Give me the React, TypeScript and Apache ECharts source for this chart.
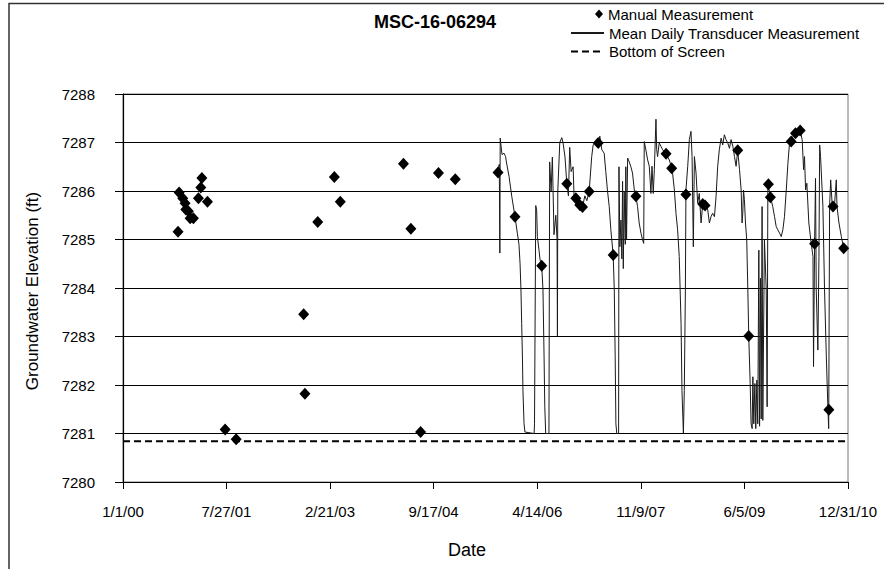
import React, { useEffect, useRef } from "react";
import * as echarts from "echarts";

const FONT = '"Liberation Sans", Arial, Helvetica, sans-serif';

// Dates on the x axis are stored as days since 1 Jan 2000
const xTickDates = ["2000-01-01", "2001-07-27", "2003-02-21", "2004-09-17", "2006-04-14", "2007-11-09", "2009-06-05", "2010-12-31"];
const yMin = 7280;
const yMax = 7288;

// Manual Measurement (diamonds)
const manualDay = [305, 311, 331, 344, 348, 362, 372, 390, 418, 431, 437, 468, 566, 627, 1001, 1008, 1079, 1171, 1204, 1554, 1595, 1649, 1748, 1841, 2078, 2172, 2320, 2459, 2509, 2531, 2546, 2583, 2633, 2716, 2842, 3009, 3040, 3119, 3212, 3225, 3406, 3467, 3576, 3587, 3702, 3726, 3752, 3832, 3911, 3934, 3993];
const manualElev = [7285.16, 7285.97, 7285.85, 7285.75, 7285.62, 7285.58, 7285.44, 7285.44, 7285.85, 7286.07, 7286.27, 7285.78, 7281.08, 7280.88, 7283.46, 7281.82, 7285.36, 7286.29, 7285.78, 7286.56, 7285.22, 7281.03, 7286.37, 7286.24, 7286.38, 7285.47, 7284.46, 7286.15, 7285.85, 7285.71, 7285.67, 7285.99, 7286.99, 7284.68, 7285.89, 7286.77, 7286.47, 7285.93, 7285.73, 7285.7, 7286.84, 7283.01, 7286.14, 7285.87, 7287.02, 7287.19, 7287.25, 7284.91, 7281.49, 7285.68, 7284.82];

// Mean Daily Transducer Measurement (line)
const transducerDay = [2075, 2085, 2088, 2090, 2100, 2111, 2120, 2124, 2139, 2154, 2172, 2185, 2194, 2200, 2205, 2209, 2213, 2216, 2222, 2227, 2278, 2280, 2287, 2292, 2296, 2305, 2311, 2320, 2327, 2333, 2337, 2342, 2360, 2364, 2372, 2379, 2388, 2398, 2405, 2407, 2409, 2420, 2431, 2438, 2449, 2459, 2468, 2475, 2483, 2494, 2499, 2509, 2523, 2533, 2546, 2559, 2570, 2583, 2597, 2605, 2620, 2632, 2642, 2653, 2666, 2675, 2684, 2694, 2703, 2716, 2722, 2727, 2731, 2736, 2746, 2748, 2753, 2759, 2764, 2768, 2772, 2777, 2783, 2786, 2790, 2796, 2805, 2814, 2823, 2833, 2842, 2851, 2860, 2870, 2879, 2885, 2888, 2897, 2907, 2916, 2925, 2931, 2938, 2944, 2953, 2957, 2962, 2971, 2981, 2990, 3008, 3027, 3040, 3045, 3055, 3064, 3073, 3082, 3092, 3097, 3105, 3110, 3116, 3119, 3129, 3138, 3147, 3153, 3160, 3166, 3175, 3184, 3193, 3203, 3212, 3221, 3230, 3240, 3249, 3258, 3267, 3277, 3286, 3295, 3304, 3314, 3323, 3332, 3341, 3351, 3360, 3369, 3379, 3388, 3397, 3406, 3416, 3425, 3430, 3434, 3438, 3443, 3449, 3456, 3462, 3467, 3475, 3480, 3486, 3490, 3495, 3501, 3506, 3512, 3517, 3523, 3527, 3532, 3536, 3541, 3545, 3554, 3564, 3569, 3573, 3588, 3600, 3610, 3619, 3628, 3638, 3647, 3656, 3665, 3675, 3684, 3693, 3712, 3726, 3739, 3752, 3763, 3771, 3776, 3782, 3789, 3800, 3813, 3823, 3826, 3832, 3837, 3841, 3850, 3856, 3860, 3865, 3871, 3878, 3887, 3897, 3906, 3910, 3915, 3921, 3930, 3943, 3952, 3956, 3967, 3980, 3993, 4002];
const transducerElev = [7286.4, 7286.55, 7284.72, 7287.09, 7286.75, 7286.78, 7286.71, 7286.6, 7286.3, 7285.89, 7285.47, 7285.13, 7284.9, 7284.5, 7283.96, 7283.27, 7282.6, 7281.89, 7281.2, 7281.03, 7281.0, 7281.2, 7285.7, 7285.6, 7285.06, 7284.78, 7284.58, 7284.46, 7283.96, 7282.58, 7281.55, 7281.0, 7281.0, 7286.6, 7286.0, 7286.7, 7285.1, 7285.5, 7285.0, 7283.0, 7286.0, 7287.0, 7287.1, 7287.0, 7286.7, 7286.15, 7285.9, 7286.9, 7286.4, 7286.5, 7285.9, 7285.85, 7285.75, 7285.6, 7285.67, 7285.9, 7285.8, 7285.99, 7286.71, 7286.95, 7287.0, 7286.99, 7287.13, 7286.85, 7286.78, 7286.4, 7286.02, 7285.68, 7285.2, 7284.68, 7283.96, 7282.58, 7281.2, 7281.0, 7281.0, 7286.5, 7284.85, 7285.4, 7284.6, 7286.2, 7284.4, 7286.0, 7284.9, 7286.5, 7285.0, 7286.68, 7286.6, 7286.5, 7286.37, 7286.02, 7285.89, 7285.68, 7285.34, 7285.13, 7284.99, 7284.92, 7287.02, 7286.85, 7286.64, 7286.51, 7285.95, 7286.51, 7285.95, 7286.44, 7287.48, 7286.85, 7286.71, 7286.99, 7286.92, 7286.85, 7286.77, 7286.64, 7286.47, 7286.37, 7286.02, 7285.54, 7285.2, 7284.65, 7283.27, 7281.89, 7281.0, 7281.89, 7283.96, 7286.02, 7286.51, 7287.06, 7287.23, 7286.71, 7284.85, 7286.71, 7286.37, 7285.75, 7285.95, 7285.34, 7285.73, 7285.68, 7285.72, 7285.61, 7285.34, 7285.47, 7285.54, 7285.47, 7285.89, 7286.51, 7286.85, 7287.09, 7286.95, 7287.16, 7287.06, 7286.99, 7286.88, 7287.06, 7286.92, 7286.71, 7286.51, 7286.84, 7286.44, 7286.02, 7285.34, 7285.54, 7286.02, 7285.82, 7285.34, 7284.99, 7283.96, 7283.01, 7282.03, 7281.2, 7281.1, 7282.17, 7281.2, 7282.03, 7281.1, 7282.1, 7281.2, 7284.78, 7281.15, 7284.2, 7281.3, 7285.68, 7281.27, 7285.0, 7283.96, 7281.55, 7286.16, 7285.87, 7285.68, 7285.47, 7285.27, 7285.2, 7285.13, 7285.06, 7285.2, 7285.47, 7286.02, 7286.57, 7286.99, 7287.12, 7287.19, 7287.26, 7287.25, 7287.06, 7286.44, 7286.71, 7286.02, 7286.16, 7285.34, 7284.92, 7284.65, 7282.38, 7284.91, 7286.26, 7283.96, 7282.72, 7284.65, 7286.95, 7286.71, 7286.23, 7285.68, 7283.96, 7282.58, 7281.49, 7281.1, 7285.68, 7286.23, 7285.68, 7285.75, 7286.23, 7285.68, 7285.34, 7285.06, 7284.82, 7284.78];

// Bottom of Screen (dashed)
const screenDay = [0, 4017];
const screenElev = [7280.84, 7280.84];

const DAY_MS = 86400000;
const EPOCH = Date.UTC(2000, 0, 1);
function dayOf(iso: string): number {
  const [y, m, d] = iso.split("-").map(Number);
  return Math.round((Date.UTC(y, m - 1, d) - EPOCH) / DAY_MS);
}
function fmtDay(day: number): string {
  const dt = new Date(EPOCH + Math.round(day) * DAY_MS);
  const yy = String(dt.getUTCFullYear() % 100).padStart(2, "0");
  return `${dt.getUTCMonth() + 1}/${dt.getUTCDate()}/${yy}`;
}

export default function App() {
  const ref = useRef<HTMLDivElement>(null);
  useEffect(() => {
    document.body.style.margin = "0";
    if (!ref.current) return;
    const chart = echarts.init(ref.current, undefined, { renderer: "svg" });
    const xTicks = xTickDates.map(dayOf);
    const zip = (xs: number[], ys: number[]) => xs.map((x, i) => [x, ys[i]]);
    chart.setOption({
      animation: false,
      backgroundColor: "#fff",
      textStyle: { fontFamily: FONT, color: "#000" },
      title: {
        text: "MSC-16-06294",
        left: 369,
        top: 8,
        textStyle: { fontFamily: FONT, fontSize: 18, fontWeight: "bold", color: "#000" },
      },
      legend: [
        {
          data: ["Manual Measurement"],
          orient: "vertical",
          left: 595,
          top: 6,
          padding: 0,
          itemWidth: 8,
          itemHeight: 9,
          itemStyle: { color: "#000", opacity: 1 },
          textStyle: { fontFamily: FONT, fontSize: 15, color: "#000", lineHeight: 16 },
        },
        {
          data: ["Mean Daily Transducer Measurement", "Bottom of Screen"],
          orient: "vertical",
          left: 570,
          top: 25,
          padding: 0,
          itemGap: 2.5,
          itemWidth: 33,
          itemHeight: 10,
          itemStyle: { color: "rgba(0,0,0,0)", borderWidth: 0, opacity: 0 },
          textStyle: { fontFamily: FONT, fontSize: 15, color: "#000", lineHeight: 16 },
        },
      ],
      grid: {
        left: 123,
        right: 36,
        top: 94,
        bottom: 87,
        show: true,
        borderColor: "#777",
        borderWidth: 1,
        backgroundColor: "#fff",
      },
      xAxis: {
        type: "value",
        min: xTicks[0],
        max: xTicks[xTicks.length - 1],
        axisLine: { show: true, lineStyle: { color: "#000", width: 1.2 } },
        axisTick: { show: true, length: 7, customValues: xTicks, lineStyle: { color: "#000" } },
        axisLabel: {
          customValues: xTicks,
          formatter: (v: number) => fmtDay(v),
          fontFamily: FONT,
          fontSize: 15,
          color: "#000",
          margin: 22,
        },
        splitLine: { show: false },
      },
      yAxis: {
        type: "value",
        min: yMin,
        max: yMax,
        interval: 1,
        axisLine: { show: true, lineStyle: { color: "#000", width: 1.2 } },
        axisTick: { show: true, length: 8, lineStyle: { color: "#000" } },
        axisLabel: {
          formatter: (v: number) => String(v),
          fontFamily: FONT,
          fontSize: 15,
          color: "#000",
          margin: 28,
        },
        splitLine: { show: true, lineStyle: { color: "#000", width: 1 } },
      },
      graphic: [
        {
          type: "rect",
          shape: { x: 9, y: 3.5, width: 1000, height: 1000 },
          style: { fill: "none", stroke: "#333", lineWidth: 1.5 },
          silent: true,
        },
        {
          type: "text",
          x: 32,
          y: 291,
          rotation: Math.PI / 2,
          style: {
            text: "Groundwater Elevation (ft)",
            font: `17px ${FONT}`,
            fill: "#000",
            align: "center",
            verticalAlign: "middle",
          },
        },
        {
          type: "text",
          x: 467,
          y: 550,
          style: {
            text: "Date",
            font: `18px ${FONT}`,
            fill: "#000",
            align: "center",
            verticalAlign: "middle",
          },
        },
      ],
      series: [
        {
          name: "Mean Daily Transducer Measurement",
          type: "line",
          data: zip(transducerDay, transducerElev),
          symbol: "none",
          itemStyle: { color: "#1a1a1a" },
          lineStyle: { color: "#1a1a1a", width: 1 },
          z: 2,
        },
        {
          name: "Bottom of Screen",
          type: "line",
          data: zip(screenDay, screenElev),
          symbol: "none",
          itemStyle: { color: "#000" },
          lineStyle: { color: "#000", width: 2, type: [7, 4] },
          z: 2,
        },
        {
          name: "Manual Measurement",
          type: "scatter",
          data: zip(manualDay, manualElev),
          symbol: "diamond",
          symbolSize: [11, 12],
          itemStyle: { color: "#000", opacity: 1 },
          z: 3,
        },
      ],
    });
    return () => chart.dispose();
  }, []);
  return <div ref={ref} style={{ width: 884, height: 569 }} />;
}
